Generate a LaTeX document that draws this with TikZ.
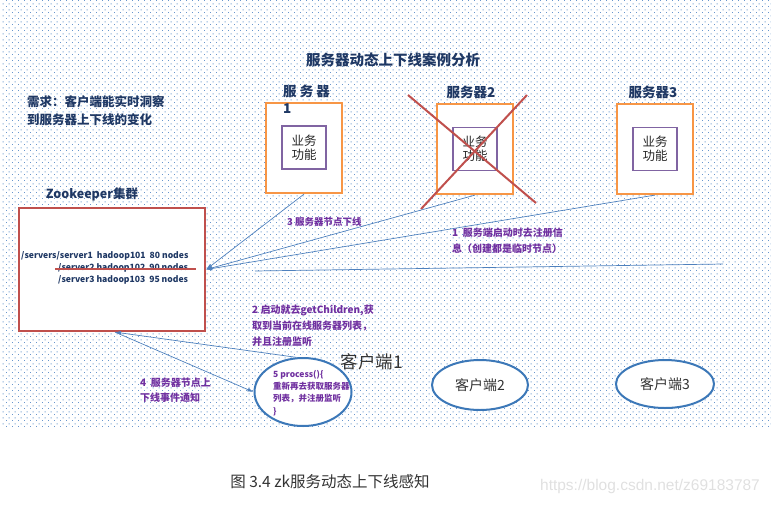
\documentclass[tikz,border=0pt]{standalone}
\usepackage{fontspec}
\setmainfont{Noto Sans CJK SC}
\newfontfamily\wmfont{Liberation Sans}
\usepackage{tikz}
\usetikzlibrary{arrows.meta,patterns,shapes.geometric}
\usepackage{xcolor}

\definecolor{navy}{HTML}{1F3864}
\definecolor{orgline}{HTML}{F79646}
\definecolor{purpline}{HTML}{8064A2}
\definecolor{purptext}{HTML}{7030A0}
\definecolor{xred}{HTML}{C0504D}
\definecolor{lnblue}{HTML}{4F81BD}
\definecolor{elblue}{HTML}{3C78B8}
\definecolor{dotblue}{RGB}{105,150,205}

\pgfdeclarepatternformonly{bgdots}{\pgfqpoint{0pt}{0pt}}{\pgfqpoint{6pt}{6pt}}{\pgfqpoint{6pt}{6pt}}{%
  \pgfpathrectangle{\pgfqpoint{0pt}{0pt}}{\pgfqpoint{1.1pt}{1.1pt}}%
  \pgfpathrectangle{\pgfqpoint{3pt}{3pt}}{\pgfqpoint{1.1pt}{1.1pt}}%
  \pgfusepath{fill}}

\tikzset{
  srvbox/.style={draw=orgline, line width=2.2pt, fill=white, minimum width=76pt, minimum height=90pt, inner sep=0pt},
  funcbox/.style={draw=purpline, line width=1.6pt, fill=white, minimum width=44pt, minimum height=43pt, inner sep=0pt, align=center, font=\fontsize{12.5}{14}\selectfont, text=black!85},
  srvlabel/.style={font=\bfseries\fontsize{13.5}{17}\selectfont, text=navy, inner sep=0pt},
  steptext/.style={font=\bfseries\fontsize{10}{16}\selectfont, text=purptext, align=left, anchor=north west, inner sep=0pt},
  zkline/.style={font=\bfseries\fontsize{8.6}{9}\selectfont, text=navy, anchor=west, inner sep=0pt},
  client/.style={ellipse, draw=elblue, line width=2pt, fill=white, inner sep=0pt, font=\fontsize{14}{16}\selectfont, text=black!80},
  link/.style={draw=lnblue, line width=0.7pt},
  linkarr/.style={link, -{Latex[length=6pt,width=4pt]}}
}

\begin{document}
\begin{tikzpicture}[x=1pt, y=-1pt]
  \useasboundingbox (0,0) rectangle (771,504);
  % dotted backdrop
  \fill[pattern=bgdots, pattern color=dotblue] (2,0) rectangle (771,428);

  % headings
  \node[font=\bfseries\fontsize{14.5}{16}\selectfont, text=navy] (title) at (393,60) {服务器动态上下线案例分析};
  \node[font=\bfseries\fontsize{12.5}{18}\selectfont, text=navy, align=left, anchor=north west, inner sep=0pt] (need) at (27,95)
    {需求：客户端能实时洞察\\到服务器上下线的变化};

  % servers
  \node[srvbox] (s1) at (304,148) {};
  \node[funcbox] (f1) at (304,147.5) {业务\\功能};
  \node[srvlabel, align=left, anchor=north west] (s1lab) at (283,85) {服 务 器\\1};

  \node[srvbox] (s2) at (475,149) {};
  \node[funcbox] (f2) at (475,149) {业务\\功能};
  \node[srvlabel] (s2lab) at (471,92) {服务器2};

  \node[srvbox] (s3) at (655,149) {};
  \node[funcbox] (f3) at (655,149) {业务\\功能};
  \node[srvlabel] (s3lab) at (653,92) {服务器3};

  % server 2 is gone
  \draw[xred, line width=2pt] (408,95) -- (536,203);
  \draw[xred, line width=2pt] (527,95) -- (421,209);

  % zookeeper
  \node[srvlabel, font=\bfseries\fontsize{12.5}{14}\selectfont] (zklab) at (92,194) {Zookeeper集群};
  \node[draw=xred, line width=2.2pt, fill=white, minimum width=186pt, minimum height=123pt] (zk) at (112,269.5) {};
  \node[zkline] (l1) at (21,256) {/servers/server1\ \ hadoop101\ \ 80 nodes};
  \node[zkline] (l2) at (58,268) {/server2 hadoop102\ \ 90 nodes};
  \node[zkline] (l3) at (58,280) {/server3 hadoop103\ \ 95 nodes};
  \draw[xred, line width=1.8pt] ([xshift=-3pt,yshift=-1pt]l2.west) -- ([xshift=8pt,yshift=-1pt]l2.east);

  % clients
  \node[client, minimum width=97pt, minimum height=68pt] (c1) at (303,392) {};
  \node[font=\fontsize{17.5}{19}\selectfont, text=black!80] (c1lab) at (372,362) {客户端1};
  \node[steptext, font=\bfseries\fontsize{8.5}{12.3}\selectfont] (proc) at (273,370)
    {5 process()\{\\重新再去获取服务器\\列表，并注册监听\\\}};
  \node[client, minimum width=96pt, minimum height=50pt] (c2) at (480,385) {客户端2};
  \node[client, minimum width=98pt, minimum height=48pt] (c3) at (665,384) {客户端3};

  % connectors
  \draw[linkarr] (s1.south) -- (zk.east);
  \draw[linkarr] (s2.south) -- (zk.east);
  \draw[linkarr] (s3.south) -- (zk.east);
  \coordinate (fa) at (255,271);
  \coordinate (fb) at (723,264);
  \draw[link] (fa) -- (fb);
  \draw[linkarr] (c1.101) -- ([xshift=3pt]zk.south);
  \draw[linkarr] ([xshift=3pt]zk.south) -- (c1.west);

  % step labels
  \node[steptext, font=\bfseries\fontsize{9.5}{16}\selectfont] (st3) at (287,217) {3 服务器节点下线};
  \node[steptext] (st1) at (452,228) {1\ \ 服务端启动时去注册信\\息（创建都是临时节点）};
  \node[steptext] (st2) at (252,305) {2 启动就去getChildren,获\\取到当前在线服务器列表，\\并且注册监听};
  \node[steptext, font=\bfseries\fontsize{10}{15}\selectfont] (st4) at (140,378) {4\ \ 服务器节点上\\下线事件通知};

  % caption
  \node[font=\fontsize{15.5}{17}\selectfont, text=black!80] (cap) at (330,482) {图 3.4 zk服务动态上下线感知};
  \node[font=\wmfont\fontsize{15.5}{17}\selectfont, text=black!12] (wm) at (650,486) {https://blog.csdn.net/z69183787};
\end{tikzpicture}
\end{document}
